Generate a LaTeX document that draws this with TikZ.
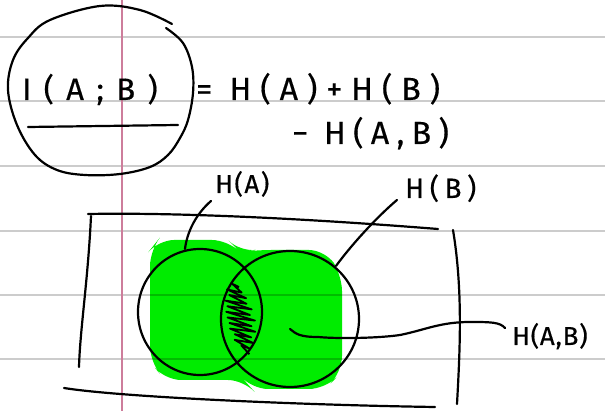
\documentclass[tikz,border=0pt]{standalone}
\usepackage{fontspec}
\setmainfont{Fira Sans}[BoldFont={Fira Sans}, BoldFeatures={FakeBold=0.4}]
\definecolor{hlgreen}{RGB}{0,236,0}
\definecolor{marginpink}{RGB}{205,125,155}
\begin{document}
\begin{tikzpicture}[x=1pt,y=-1pt,
  ink/.style={line width=2.2pt, line cap=round, line join=round, draw=black},
  rule/.style={line width=2pt, draw=black, draw opacity=0.2},
  marginline/.style={line width=2pt, draw=marginpink},
  txt/.style={inner sep=0pt, anchor=base west, font=\bfseries}]
\useasboundingbox (0,0) rectangle (605,411);
\fill[white] (0,0) rectangle (605,411);
% green highlight
\fill[hlgreen, rounded corners=16pt] (150,250) -- (158,240) -- (228,240) -- (240,252) -- (255,250) -- (325,250) -- (342,275) -- (342,372) -- (325,389) -- (252,389) -- (244,380) -- (165,380) -- (150,362) -- cycle;
% ruled lines
\foreach \yy in {37,101,166,231,295,359} \draw[rule] (0,\yy) -- (605,\yy);
\draw[marginline] (122,0) -- (122,411);
% circle round I(A;B)
\draw[ink] plot[smooth, tension=0.6] coordinates {(166,28) (183,43) (192,67) (193,93) (188,120) (180,138) (168,155) (150,167) (120,174) (85,175) (57,170) (35,155) (17,125) (8,90) (13,60) (28,38) (50,20) (100,6) (140,10) (172,24)};
% formula
\node[txt] (iab) at (22,100) {\fontsize{31}{36}\selectfont\addfontfeature{LetterSpace=40}I(A;B)};
\draw[ink] (28,127) -- (178,125);
\node[txt] (rhsa) at (196,100) {\fontsize{32}{36}\selectfont\addfontfeature{LetterSpace=28}= H(A)+H(B)};
\node[txt] (rhsb) at (292,144) {\fontsize{32}{36}\selectfont\addfontfeature{LetterSpace=23}− H(A,B)};
% box
\draw[ink] (88,214) .. controls (200,212) and (350,222) .. (438,229);
\draw[ink] (91,216) .. controls (88,280) and (80,330) .. (79,367);
\draw[ink] (64,388) .. controls (120,397) and (300,405) .. (435,407);
\draw[ink] (453,230) .. controls (463,290) and (460,350) .. (457,404);
% venn circles
\draw[ink] (200,312) ellipse [x radius=62, y radius=63];
\draw[ink] (290,319) ellipse [x radius=69, y radius=68];
% scribble
\draw[line width=1.8pt, line join=round] plot[samples at={0,1,...,24}, variable=\t] ({235+10*\t/24+(4+9*sin(180*\t/24))*cos(180*\t)+2*sin(97*\t)}, {284+2.8*\t+3*cos(180*\t)});
% labels
\node[txt] (ha) at (215,193) {\fontsize{26}{30}\selectfont\addfontfeature{LetterSpace=6}H(A)};
\node[txt] (hb) at (405,198) {\fontsize{28}{32}\selectfont\addfontfeature{LetterSpace=20}H(B)};
\node[txt] (hab) at (512,345) {\fontsize{26}{30}\selectfont\addfontfeature{LetterSpace=3}H(A,B)};
\coordinate (pa) at (185,249);
\coordinate (pb) at (336,266);
\coordinate (pab) at (290,329);
\draw[ink] (211,201) .. controls (196,214) and (187,232) .. (pa);
\draw[ink] (397,200) .. controls (378,216) and (352,244) .. (pb);
\draw[ink] (pab) .. controls (296,334) and (300,337) .. (318,337) .. controls (340,339) and (380,338) .. (400,335) .. controls (425,330) and (440,322) .. (470,322) .. controls (490,322) and (500,322) .. (505,328);
\end{tikzpicture}
\end{document}
